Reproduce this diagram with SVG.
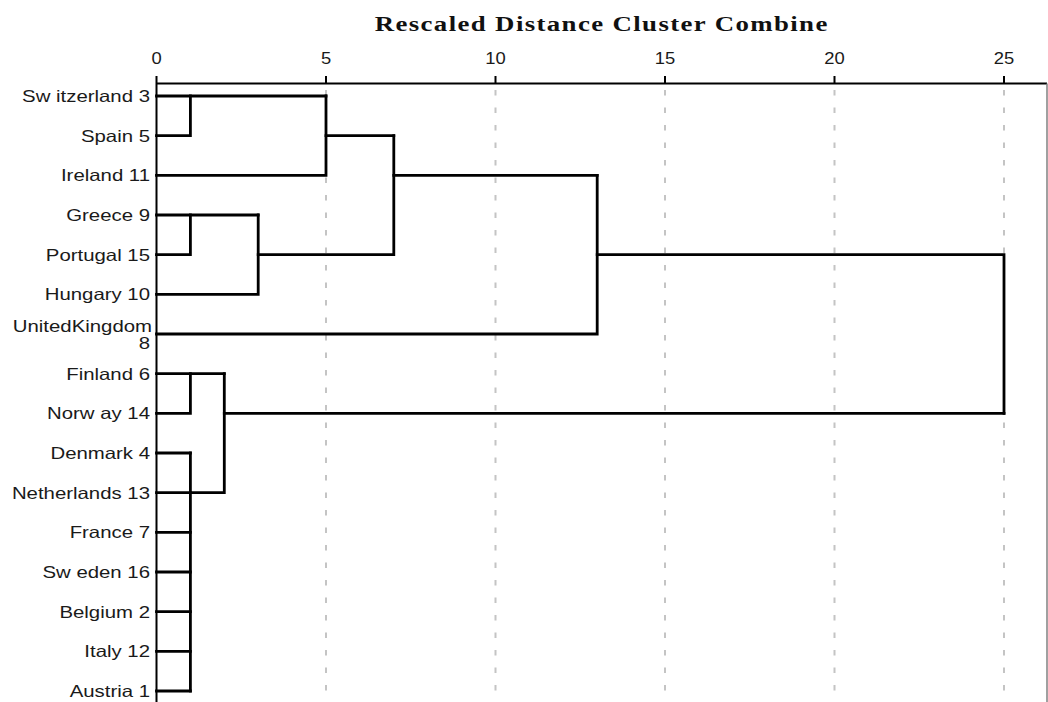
<svg xmlns="http://www.w3.org/2000/svg" width="1048" height="702" viewBox="0 0 1048 702">
  <style>
    .title { font-family: "Liberation Serif", "Times New Roman", serif; font-weight: bold; font-size: 22px; fill: #111; }
    .tick { font-family: "Liberation Sans", Arial, sans-serif; font-size: 16px; fill: #1a1a1a; text-anchor: middle; }
    .lbl text { font-family: "Liberation Sans", Arial, sans-serif; font-size: 16.3px; fill: #1a1a1a; text-anchor: end; }
    .grid { stroke: #c4c4c4; stroke-width: 2; stroke-dasharray: 5.5 12; fill: none; }
    .axis { stroke: #000; stroke-width: 2; fill: none; }
    .branch { stroke: #000; stroke-width: 2.8; fill: none; stroke-linecap: square; stroke-linejoin: miter; }
  </style>
  <rect width="1048" height="702" fill="#fff"/>

  <!-- title -->
  <text class="title" transform="translate(601 31) scale(1.22 1)" text-anchor="middle" textLength="371" lengthAdjust="spacing">Rescaled Distance Cluster Combine</text>

  <!-- scale: 0..25 mapped to x 156.5..1004 -->
  <g id="scale">
    <g class="tick">
      <text transform="translate(156.5 64) scale(1.15 1)">0</text>
      <text transform="translate(326 64) scale(1.15 1)">5</text>
      <text transform="translate(495.5 64) scale(1.15 1)">10</text>
      <text transform="translate(665 64) scale(1.15 1)">15</text>
      <text transform="translate(834.5 64) scale(1.15 1)">20</text>
      <text transform="translate(1004 64) scale(1.15 1)">25</text>
    </g>
    <g class="grid">
      <path d="M326 90V702M495.5 90V702M665 90V702M834.5 90V702M1004 90V702"/>
    </g>
    <path class="axis" d="M156.5 83.5H1047M156.5 76V702M326 76V83.5M495.5 76V83.5M665 76V83.5M834.5 76V83.5M1004 76V83.5"/>
    <path d="M1047 83.5V702" stroke="#808080" stroke-width="1.5" fill="none"/>
  </g>

  <!-- leaf labels -->
  <g id="switzerland" class="lbl"><text transform="translate(150 102) scale(1.25 1)">Sw itzerland 3</text></g>
  <g id="spain" class="lbl"><text transform="translate(150 141.7) scale(1.25 1)">Spain 5</text></g>
  <g id="ireland" class="lbl"><text transform="translate(150 181.3) scale(1.25 1)">Ireland 11</text></g>
  <g id="greece" class="lbl"><text transform="translate(150 221) scale(1.25 1)">Greece 9</text></g>
  <g id="portugal" class="lbl"><text transform="translate(150 260.7) scale(1.25 1)">Portugal 15</text></g>
  <g id="hungary" class="lbl"><text transform="translate(150 300.3) scale(1.25 1)">Hungary 10</text></g>
  <g id="united-kingdom" class="lbl">
    <text transform="translate(152 332) scale(1.25 1)">UnitedKingdom</text>
    <text transform="translate(150 348.5) scale(1.25 1)">8</text>
  </g>
  <g id="finland" class="lbl"><text transform="translate(150 379.7) scale(1.25 1)">Finland 6</text></g>
  <g id="norway" class="lbl"><text transform="translate(150 419.3) scale(1.25 1)">Norw ay 14</text></g>
  <g id="denmark" class="lbl"><text transform="translate(150 459) scale(1.25 1)">Denmark 4</text></g>
  <g id="netherlands" class="lbl"><text transform="translate(150 498.7) scale(1.25 1)">Netherlands 13</text></g>
  <g id="france" class="lbl"><text transform="translate(150 538.3) scale(1.25 1)">France 7</text></g>
  <g id="sweden" class="lbl"><text transform="translate(150 578) scale(1.25 1)">Sw eden 16</text></g>
  <g id="belgium" class="lbl"><text transform="translate(150 617.7) scale(1.25 1)">Belgium 2</text></g>
  <g id="italy" class="lbl"><text transform="translate(150 657.3) scale(1.25 1)">Italy 12</text></g>
  <g id="austria" class="lbl"><text transform="translate(150 697) scale(1.25 1)">Austria 1</text></g>

  <!-- dendrogram branches -->
  <g id="connectors" class="branch">
    <path d="M156.5 96H326"/>
    <path d="M156.5 135.7H190.4V96"/>
    <path d="M156.5 175.3H326V96"/>
    <path d="M326 135.7H393.8"/>
    <path d="M156.5 215H258.2"/>
    <path d="M156.5 254.7H190.4V215"/>
    <path d="M156.5 294.3H258.2V215"/>
    <path d="M258.2 254.7H393.8V135.7"/>
    <path d="M393.8 175.3H597.2"/>
    <path d="M156.5 334H597.2V175.3"/>
    <path d="M597.2 254.7H1004V413.3"/>
    <path d="M156.5 373.7H224.3"/>
    <path d="M156.5 413.3H190.4V373.7"/>
    <path d="M156.5 453H190.4"/>
    <path d="M156.5 492.7H190.4"/>
    <path d="M156.5 532.3H190.4"/>
    <path d="M156.5 572H190.4"/>
    <path d="M156.5 611.7H190.4"/>
    <path d="M156.5 651.3H190.4"/>
    <path d="M156.5 691H190.4"/>
    <path d="M190.4 453V691"/>
    <path d="M190.4 492.7H224.3V373.7"/>
    <path d="M224.3 413.3H1004"/>
  </g>
</svg>
